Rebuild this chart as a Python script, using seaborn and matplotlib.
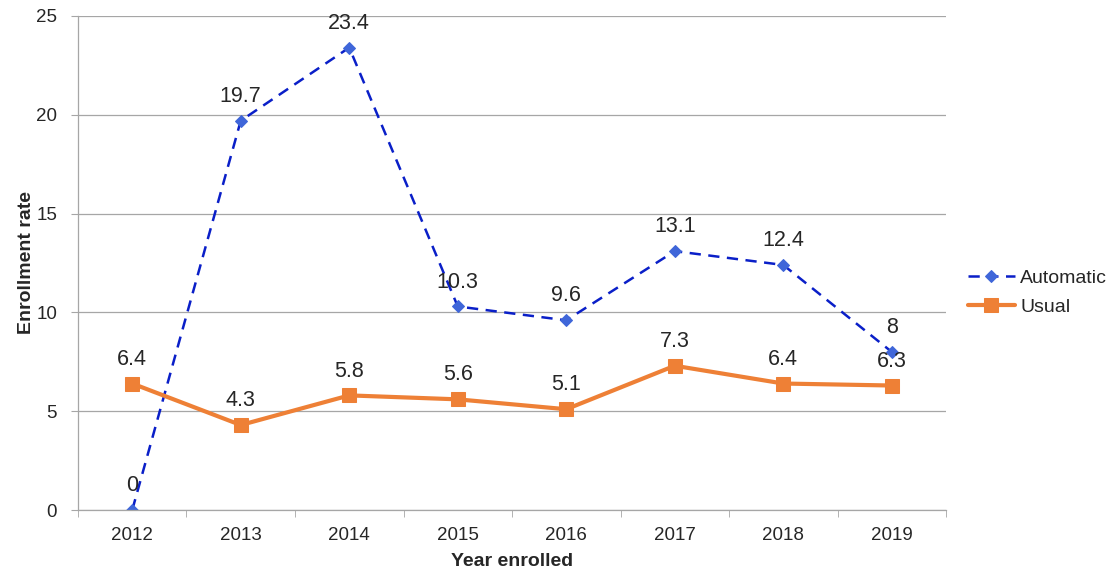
import pandas as pd
import matplotlib.pyplot as plt
import seaborn as sns
from matplotlib.ticker import FixedLocator

# --- chart data ---
years = ["2012", "2013", "2014", "2015", "2016", "2017", "2018", "2019"]
automatic = [0, 19.7, 23.4, 10.3, 9.6, 13.1, 12.4, 8]
usual = [6.4, 4.3, 5.8, 5.6, 5.1, 7.3, 6.4, 6.3]
y_ticks = [0, 5, 10, 15, 20, 25]

sns.set_style("white")
plt.rcParams['font.family'] = ['Liberation Sans', 'DejaVu Sans']

df = pd.DataFrame({
    "Year": years * 2,
    "Rate": automatic + usual,
    "Series": ["Automatic"] * len(years) + ["Usual"] * len(years),
})

fig = plt.figure(figsize=(11.11, 5.83), dpi=100)
ax = fig.add_axes([0.0702, 0.1252, 0.7813, 0.8474])

sns.lineplot(data=df[df["Series"] == "Automatic"], x="Year", y="Rate", ax=ax,
             color="#0a1fc8", linestyle=(0, (4.5, 3)), linewidth=1.8,
             marker="D", markersize=6, markerfacecolor="#3f66d9",
             markeredgecolor="#3f66d9", label="Automatic")
sns.lineplot(data=df[df["Series"] == "Usual"], x="Year", y="Rate", ax=ax,
             color="#ee8036", linewidth=3, marker="s", markersize=9.5,
             markeredgecolor="#ee8036", label="Usual")

# value labels above each point
for i, v in enumerate(automatic):
    ax.annotate(f"{v:g}", (i, v), xytext=(0, 10), textcoords="offset points",
                ha="center", va="bottom", fontsize=15.5)
for i, v in enumerate(usual):
    ax.annotate(f"{v:g}", (i, v), xytext=(0, 10), textcoords="offset points",
                ha="center", va="bottom", fontsize=15.5)

ax.set_xlim(-0.5, len(years) - 0.5)
ax.set_ylim(0, 25)
ax.set_yticks(y_ticks)
ax.yaxis.grid(True, color="#a6a6a6", linewidth=0.9)
ax.set_axisbelow(True)

ax.xaxis.set_minor_locator(FixedLocator([i - 0.5 for i in range(len(years) + 1)]))
ax.tick_params(axis="x", which="major", length=0, labelsize=13.5, pad=12)
ax.tick_params(axis="x", which="minor", length=5, color="#a6a6a6", direction="out", bottom=True)
ax.tick_params(axis="y", length=5, color="#a6a6a6", direction="out", labelsize=13.5, left=True, pad=10)

for side in ["top", "right"]:
    ax.spines[side].set_visible(False)
for side in ["left", "bottom"]:
    ax.spines[side].set_color("#a6a6a6")
    ax.spines[side].set_linewidth(0.9)

ax.set_xlabel("Year enrolled", fontsize=14, fontweight="bold", labelpad=7)
ax.set_ylabel("Enrollment rate", fontsize=14, fontweight="bold", labelpad=1)

ax.legend(loc="center left", bbox_to_anchor=(1.005, 0.44), frameon=False,
          fontsize=14, handlelength=2.4, labelspacing=0.6, handletextpad=0.3)

fig.savefig("out.png", dpi=100)
